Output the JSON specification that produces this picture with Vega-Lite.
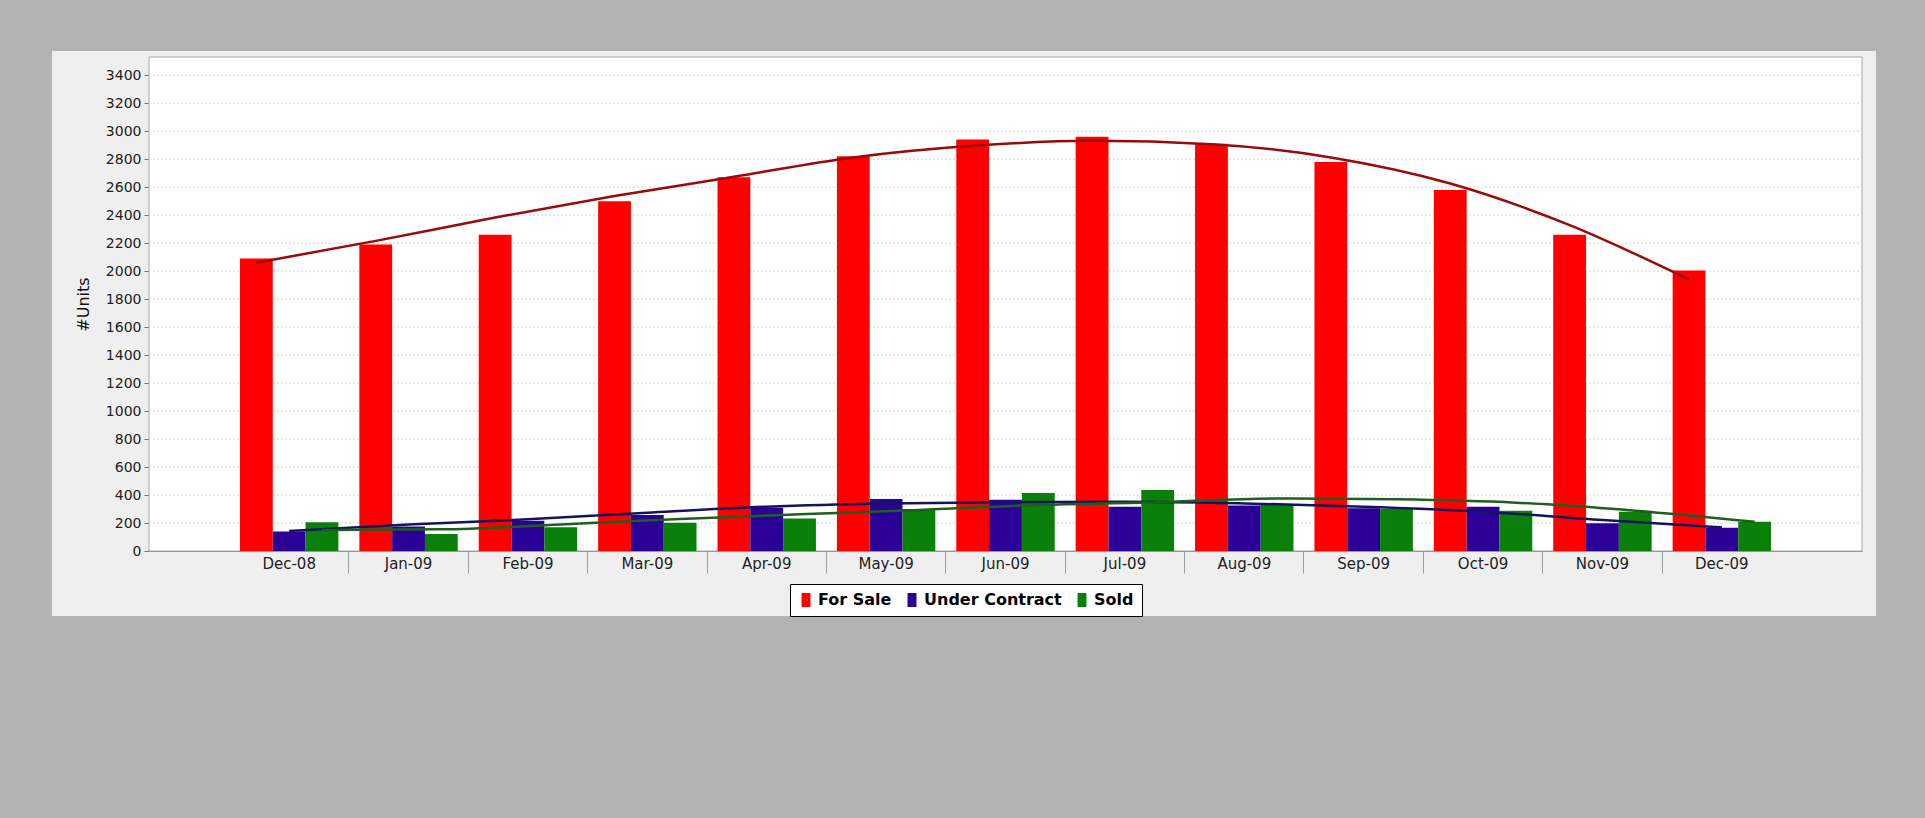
{
  "$schema": "https://vega.github.io/schema/vega-lite/v6.json",
  "autosize": {"type": "none"},
  "padding": {"left": 52, "top": 51, "right": 49, "bottom": 202},
  "width": 1824,
  "height": 565,
  "background": "#b3b3b3",
  "config": {
    "view": {"fill": "#efefef", "stroke": null},
    "font": "DejaVu Sans",
    "axisY": {
      "title": "#Units", "orient": "left", "offset": -97, "grid": false, "format": "d",
      "values": [0, 200, 400, 600, 800, 1000, 1200, 1400, 1600, 1800, 2000, 2200, 2400, 2600, 2800, 3000, 3200, 3400],
      "labelFontSize": 14, "labelColor": "#222", "labelPadding": 3,
      "tickSize": 5, "tickColor": "#777777", "domainColor": "#888888",
      "titleFontSize": 16, "titleFontWeight": "normal", "titleColor": "#111", "titlePadding": 14
    }
  },
  "datasets": {
    "d": [
      {"month": "Dec-08", "series": "For Sale", "units": 2090, "trend": 2060},
      {"month": "Jan-09", "series": "For Sale", "units": 2190, "trend": 2216},
      {"month": "Feb-09", "series": "For Sale", "units": 2260, "trend": 2383},
      {"month": "Mar-09", "series": "For Sale", "units": 2500, "trend": 2536},
      {"month": "Apr-09", "series": "For Sale", "units": 2670, "trend": 2674},
      {"month": "May-09", "series": "For Sale", "units": 2820, "trend": 2812},
      {"month": "Jun-09", "series": "For Sale", "units": 2940, "trend": 2895},
      {"month": "Jul-09", "series": "For Sale", "units": 2960, "trend": 2931},
      {"month": "Aug-09", "series": "For Sale", "units": 2910, "trend": 2907},
      {"month": "Sep-09", "series": "For Sale", "units": 2780, "trend": 2812},
      {"month": "Oct-09", "series": "For Sale", "units": 2580, "trend": 2626},
      {"month": "Nov-09", "series": "For Sale", "units": 2260, "trend": 2329},
      {"month": "Dec-09", "series": "For Sale", "units": 2005, "trend": 1940},
      {"month": "Dec-08", "series": "Under Contract", "units": 140, "trend": 143},
      {"month": "Jan-09", "series": "Under Contract", "units": 175, "trend": 190},
      {"month": "Feb-09", "series": "Under Contract", "units": 217, "trend": 226},
      {"month": "Mar-09", "series": "Under Contract", "units": 257, "trend": 274},
      {"month": "Apr-09", "series": "Under Contract", "units": 309, "trend": 317},
      {"month": "May-09", "series": "Under Contract", "units": 371, "trend": 340},
      {"month": "Jun-09", "series": "Under Contract", "units": 366, "trend": 348},
      {"month": "Jul-09", "series": "Under Contract", "units": 316, "trend": 352},
      {"month": "Aug-09", "series": "Under Contract", "units": 325, "trend": 340},
      {"month": "Sep-09", "series": "Under Contract", "units": 305, "trend": 317},
      {"month": "Oct-09", "series": "Under Contract", "units": 316, "trend": 281},
      {"month": "Nov-09", "series": "Under Contract", "units": 198, "trend": 221},
      {"month": "Dec-09", "series": "Under Contract", "units": 167, "trend": 169},
      {"month": "Dec-08", "series": "Sold", "units": 205, "trend": 150},
      {"month": "Jan-09", "series": "Sold", "units": 121, "trend": 155},
      {"month": "Feb-09", "series": "Sold", "units": 169, "trend": 190},
      {"month": "Mar-09", "series": "Sold", "units": 202, "trend": 229},
      {"month": "Apr-09", "series": "Sold", "units": 233, "trend": 262},
      {"month": "May-09", "series": "Sold", "units": 300, "trend": 293},
      {"month": "Jun-09", "series": "Sold", "units": 414, "trend": 329},
      {"month": "Jul-09", "series": "Sold", "units": 436, "trend": 348},
      {"month": "Aug-09", "series": "Sold", "units": 330, "trend": 376},
      {"month": "Sep-09", "series": "Sold", "units": 300, "trend": 369},
      {"month": "Oct-09", "series": "Sold", "units": 288, "trend": 345},
      {"month": "Nov-09", "series": "Sold", "units": 281, "trend": 288},
      {"month": "Dec-09", "series": "Sold", "units": 209, "trend": 209}
    ]
  },
  "layer": [
    {
      "layer": [
        {
          "data": {"values": [{"k": 1}]},
          "mark": {"type": "rect", "fill": "white", "stroke": "#a8a8a8", "strokeWidth": 1},
          "encoding": {
            "x": {"datum": 0, "type": "quantitative", "scale": {"domain": [0, 1], "range": [97, 1810]}, "axis": null},
            "x2": {"datum": 1},
            "y": {"datum": 3530, "type": "quantitative", "scale": {"domain": [0, 3530], "range": [500, 6], "nice": false}, "axis": {"title": "#Units"}},
            "y2": {"datum": 0}
          }
        },
        {
          "data": {"values": [{"v": 200}, {"v": 400}, {"v": 600}, {"v": 800}, {"v": 1000}, {"v": 1200}, {"v": 1400}, {"v": 1600}, {"v": 1800}, {"v": 2000}, {"v": 2200}, {"v": 2400}, {"v": 2600}, {"v": 2800}, {"v": 3000}, {"v": 3200}, {"v": 3400}]},
          "mark": {"type": "rule", "stroke": "#d4d4d4", "strokeWidth": 1, "strokeDash": [2, 2]},
          "encoding": {
            "x": {"datum": 0, "type": "quantitative", "scale": {"domain": [0, 1], "range": [97, 1810]}, "axis": null},
            "x2": {"datum": 1},
            "y": {"field": "v", "type": "quantitative", "scale": {"domain": [0, 3530], "range": [500, 6], "nice": false}, "axis": {"title": "#Units"}}
          }
        }
      ]
    },
    {
      "data": {"name": "d"},
      "layer": [
        {
          "mark": {"type": "bar"},
          "encoding": {
            "x": {
              "field": "month", "type": "nominal",
              "sort": ["Dec-08", "Jan-09", "Feb-09", "Mar-09", "Apr-09", "May-09", "Jun-09", "Jul-09", "Aug-09", "Sep-09", "Oct-09", "Nov-09", "Dec-09"],
              "scale": {"range": [97, 1810], "paddingInner": 0, "paddingOuter": 0.674},
              "axis": {
                "title": null, "orient": "bottom", "offset": -65, "bandPosition": 0,
                "labelAngle": 0, "labelDx": 59.7, "labelAlign": "center",
                "labelFontSize": 15, "labelColor": "#222", "labelPadding": -17,
                "tickSize": 22, "tickWidth": 1,
                "tickColor": {"condition": {"test": "datum.value === 'Dec-08'", "value": "transparent"}, "value": "#a0a0a0"},
                "domainColor": "#888888", "grid": false
              }
            },
            "xOffset": {
              "field": "series", "type": "nominal",
              "sort": ["For Sale", "Under Contract", "Sold"],
              "scale": {"domain": ["For Sale", "Under Contract", "Sold"], "paddingInner": 0, "paddingOuter": 0.32}
            },
            "y": {
              "field": "units", "type": "quantitative",
              "scale": {"domain": [0, 3530], "range": [500, 6], "nice": false},
              "axis": {"title": "#Units"}
            },
            "color": {
              "field": "series", "type": "nominal",
              "scale": {"domain": ["For Sale", "Under Contract", "Sold"], "range": ["#ff0000", "#2b0096", "#0a800a"]},
              "legend": {
                "title": null, "orient": "none", "legendX": 738, "legendY": 533,
                "direction": "horizontal", "columns": 3,
                "fillColor": "white", "strokeColor": "black", "padding": 8,
                "symbolType": "M-0.64,-1H0.64V1H-0.64Z", "symbolSize": 196, "symbolStrokeWidth": 0,
                "labelFont": "DejaVu Sans", "labelFontWeight": "bold", "labelFontSize": 16, "labelColor": "#000",
                "labelOffset": 4, "columnPadding": 12, "labelLimit": 400
              }
            }
          }
        },
        {
          "mark": {"type": "line", "interpolate": "monotone", "strokeWidth": 2.5},
          "encoding": {
            "x": {
              "field": "month", "type": "nominal",
              "sort": ["Dec-08", "Jan-09", "Feb-09", "Mar-09", "Apr-09", "May-09", "Jun-09", "Jul-09", "Aug-09", "Sep-09", "Oct-09", "Nov-09", "Dec-09"]
            },
            "xOffset": {"field": "series", "type": "nominal", "sort": ["For Sale", "Under Contract", "Sold"]},
            "y": {"field": "trend", "type": "quantitative", "axis": {"title": "#Units"}},
            "stroke": {
              "field": "series", "type": "nominal",
              "scale": {"domain": ["For Sale", "Under Contract", "Sold"], "range": ["#9b0a0a", "#14145e", "#1e5e1e"]},
              "legend": null
            }
          }
        }
      ]
    }
  ],
  "resolve": {"scale": {"x": "independent"}, "axis": {"x": "independent"}}
}
